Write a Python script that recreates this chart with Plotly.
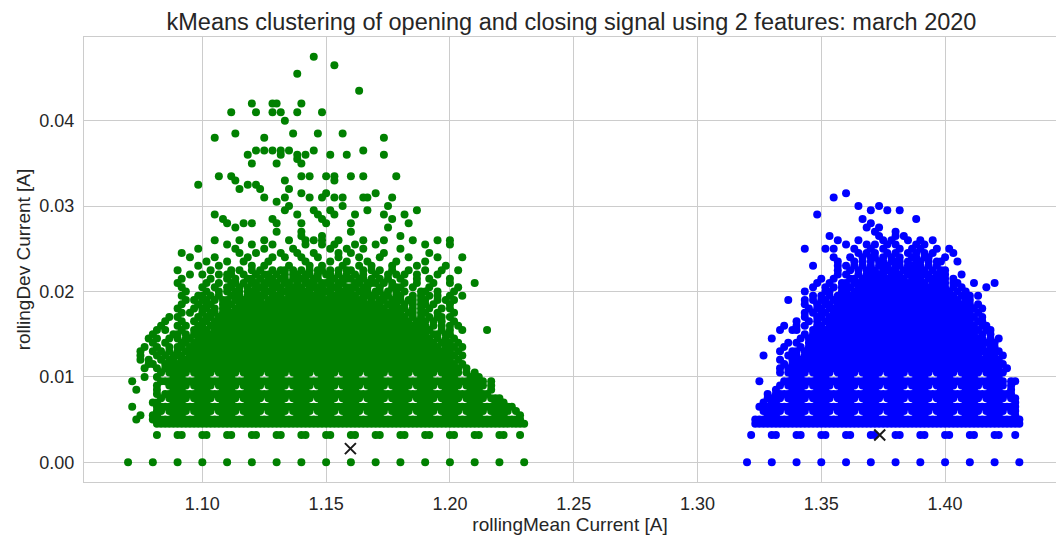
import plotly.graph_objects as go

# Rolling features live on a lattice: the rolling mean of readings quantised
# to 0.01 A moves in steps of 0.01/6 A.
MEAN_STEP = 0.01 / 6

green_mean_start = 1.07
blue_mean_start = 1.32

# Each row: rollingDev level [A], then rolling-mean lattice cells starting at
# the cluster's start value; one block of six cells spans 0.01 A, "o" = sample.
green_rows = [
    "0.0475 ...... ...... ...... ...... ...... ...... ...... ...o..",
    "0.0465 ...... ...... ...... ...... ...... ...... ...... ...... ..o...",
    "0.0455 ...... ...... ...... ...... ...... ...... .....o",
    "0.0435 ...... ...... ...... ...... ...... ...... ...... ...... ...... ..o...",
    "0.0420 ...... ...... ...... ...... ...... o....o o..... o.....",
    "0.0410 ...... ...... ...... ...... .o.... .o...o .o...o .....o",
    "0.0400 ...... ...... ...... ...... ...... ...... ..o...",
    "0.0385 ...... ...... ...... ...... ..o... ...... ....o. ....o. ....o.",
    "0.0380 ...... ...... ...... ...o.. ...... ...o.. ...... ...... ...... ...... ..o...",
    "0.0365 ...... ...... ...... ...... ...... .o.o.o .o.o.. ...o.. ...... ...o..",
    "0.0360 ...... ...... ...... ...... .....o ...... .o...o .o.... .o...o ...... ..o...",
    "0.0355 ...... ...... ...... ...... ...... ...... .....o",
    "0.0350 ...... ...... ...... ...... ...... o..... o..... o.....",
    "0.0335 ...... ...... ...... ....o. .o.... ...... ...... o.o... o.o... o..o.. .....o",
    "0.0330 ...... ...... ...... ...... ..o... ...... ..o... ...... ..o...",
    "0.0325 ...... ...... .....o ...... .....o .o....",
    "0.0320 ...... ...... ...... ...... ...o.. ..o... ...o..",
    "0.0315 ...... ...... ...... ...... ...... ...... ...... o..... o..... ...... o.....",
    "0.0310 ...... ...... ...... ...... ...... ...o.. ..o... ..o..o ..o.o. ...oo. ....o.",
    "0.0305 ...... ...... ...... ...... ...... ...... o.....",
    "0.0300 ...... ...... ...... ...... ...... ...... ...o.. ...... ....o. ...... ...o..",
    "0.0295 ...... ...... ...... ...... ...... ...... ..o... ...o.. .o.... ....o. ...... ....o.",
    "0.0290 ...... ...... ...... ...o.. ...... ...... .....o ....o. ..o... .o.... ..o... .o....",
    "0.0285 ...... ...... ...... .....o ...... .....o ...... .....o ...... ...... ....o.",
    "0.0280 ...... ...... ...... ...... o...o. o..... o..... o..... o..... o..... ...... ..o...",
    "0.0275 ...... ...... ...... ...... ..o... ...... ...... ...... ...... ...... ...o..",
    "0.0270 ...... ...... ...... ...... ...... ...... o..... o..... ...... o.....",
    "0.0265 ...... ...... ...... ...... ...... ...... ...... o....o ...... ...... ...... o.....",
    "0.0260 ...... ...... ...... ...o.. ...o.. ...o.. ...o.. .o.o.o ...o.. ...o.. ..o... ...o.. ...o.. o.....",
    "0.0255 ...... ...... ...... ...... o..... o....o ...... .o...o ..o... .o.... o..... ...... o..... o.....",
    "0.0250 ...... ...... .....o ...... ..o... ...o.. ....o. ...... .o...o ...o.. ...... o.....",
    "0.0245 ...... ...... .o.... ...... ...o.. .o.... .o...o ...o.. ...o.. o..... ..o... ...... .o....",
    "0.0240 ...... ...... ...o.. ...o.. .....o .....o ..o... o...o. ...o.. ..o... .o.... ..o... ...o.. ...o..",
    "0.0235 ...... ...... ...... .o.... o...o. ....o. ...... .o.... .o...o ....o. .....o ...... o.....",
    "0.0230 ...... ...... .....o ....o. ...... o..o.. ...o.. ..o..o ....o. ..o..o ....o. ....o. .....o",
    "0.0225 ...... ...... o..... ..o... .o.o.. o.o..o .oo.o. o.o.oo .o.o.o o..o.o .o..o. ..o... o...o. ..o...",
    "0.0220 ...... ...... ...o.. o...o. oo..o. .o.oo. o.o.oo .oo.o. oo.o.o .o.o.. o..o.o .o..o. ...o..",
    "0.0215 ...... ...... .o.... ..o... o.o..o o.o.oo .oo.oo oo.oo. .oo.oo o.oo.o .o.o.. o...o. .o.... o.....",
    "0.0210 ...... ...... o..... .o..o. .oo.o. oo.ooo o.oo.o .ooo.o oo.oo. .oo.oo o.o.o. .o..o. ..o... o..... o.....",
    "0.0205 ...... ...... .o.... o..o.. oo.o.o .ooo.o oo.ooo o.oooo .ooo.o oo.oo. .o..oo o..o.. .o.... ..o...",
    "0.0200 ...... ...... ..o... .o..o. o.oo.o oo.ooo .ooooo ooo.oo oo.ooo o.ooo. oo.o.o .o...o o..o.. .o....",
    "0.0195 ...... ...... .o...o o.o.o. .ooo.o oooo.o oo.ooo oooooo .ooooo oo.ooo o.oo.o o..o.o .o.o.. o..o..",
    "0.0190 ...... ...... ..o.o. oo.o.o o.oooo ooo.oo oooooo oooooo oooooo oooo.o .oo.oo o.oo.o o..o.o .o....",
    "0.0185 ...... ...... .o...o .oo..o oo.ooo oooooo oooooo oooooo oooooo oooooo oo.ooo .o.o.o o.o... o.....",
    "0.0180 ...... ...... o...o. oo.o.o o.oooo oooooo oooooo oooooo oooooo oooooo ooo.oo oo.o.o .o..o. o.....",
    "0.0175 ...... ...... .o.o.. o.oo.o oooooo oooooo oooooo oooooo oooooo oooooo oooooo o.oo.o o..o.. .o....",
    "0.0170 ...... ....o. o....o .oo.oo oooooo oooooo oooooo oooooo oooooo oooooo oooooo oo.o.o .o.oo. o.....",
    "0.0165 ...... ...o.. .o..o. oo.ooo oooooo oooooo oooooo oooooo oooooo oooooo oooooo ooo.oo o.o.o. .o....",
    "0.0160 ...... ..o... o.o..o o.oooo oooooo oooooo oooooo oooooo oooooo oooooo oooooo oooooo o.o.o. o.o...",
    "0.0155 ...... .o.o.. .o..oo oo.ooo oooooo oooooo oooooo oooooo oooooo oooooo oooooo oooooo oo..o. o..o.. ...o..",
    "0.0150 ...... o....o o.o.oo oooooo oooooo oooooo oooooo oooooo oooooo oooooo oooooo oooooo o.oo.o o.....",
    "0.0145 .....o .o..o. o.oo.o oooooo oooooo oooooo oooooo oooooo oooooo oooooo oooooo oooooo oo.o.o .o....",
    "0.0140 ...... o..o.. .oo.oo oooooo oooooo oooooo oooooo oooooo oooooo oooooo oooooo oooooo ooo.oo o.o...",
    "0.0135 ....o. .o..o. oo.ooo oooooo oooooo oooooo oooooo oooooo oooooo oooooo oooooo oooooo oooo.o oo.o..",
    "0.0130 ...o.. o.o.o. o.oooo oooooo oooooo oooooo oooooo oooooo oooooo oooooo oooooo oooooo oooooo o.o...",
    "0.0125 ...o.. .o.o.o oo.ooo oooooo oooooo oooooo oooooo oooooo oooooo oooooo oooooo oooooo oooooo oo.o..",
    "0.0120 ...o.o ..o.oo .ooooo oooooo oooooo oooooo oooooo oooooo oooooo oooooo oooooo oooooo oooooo o.o...",
    "0.0115 .....o o..ooo oooooo oooooo oooooo oooooo oooooo oooooo oooooo oooooo oooooo oooooo oooooo oo.o..",
    "0.0110 ....o. .o.ooo oooooo oooooo oooooo oooooo oooooo oooooo oooooo oooooo oooooo oooooo oooooo ooo.o.",
    "0.0105 ...... ..o.oo ooo.oo ooo.oo ooo.oo ooo.oo ooo.oo ooo.oo ooo.oo ooo.oo ooo.oo ooo.oo ooo.oo ooo.o. o.....",
    "0.0100 ....o. .o...o oo...o oo...o oo...o oo...o oo...o oo...o oo...o oo...o oo...o oo...o oo...o oo...o oo....",
    "0.0095 .o.... ..oooo oooooo oooooo oooooo oooooo oooooo oooooo oooooo oooooo oooooo oooooo oooooo oooooo ooo.o.",
    "0.0090 ...... .o..oo ooo.oo ooo.oo ooo.oo ooo.oo ooo.oo ooo.oo ooo.oo ooo.oo ooo.oo ooo.oo ooo.oo ooo.oo ooo.o.",
    "0.0085 ..o... .o...o oo...o oo...o oo...o oo...o oo...o oo...o oo...o oo...o oo...o oo...o oo...o oo...o oo..o.",
    "0.0080 ...... .o.ooo oooooo oooooo oooooo oooooo oooooo oooooo oooooo oooooo oooooo oooooo oooooo oooooo oooo..",
    "0.0075 ...... ..o.oo ooo.oo ooo.oo ooo.oo ooo.oo ooo.oo ooo.oo ooo.oo ooo.oo ooo.oo ooo.oo ooo.oo ooo.oo ooo.oo o.....",
    "0.0070 ...... oo...o oo...o oo...o oo...o oo...o oo...o oo...o oo...o oo...o oo...o oo...o oo...o oo...o oo...o oo....",
    "0.0065 .o.... .ooooo oooooo oooooo oooooo oooooo oooooo oooooo oooooo oooooo oooooo oooooo oooooo oooooo oooooo oooo..",
    "0.0060 ...... .oo.oo ooo.oo ooo.oo ooo.oo ooo.oo ooo.oo ooo.oo ooo.oo ooo.oo ooo.oo ooo.oo ooo.oo ooo.oo ooo.oo ooo.o.",
    "0.0055 ...o.. oo...o oo...o oo...o oo...o oo...o oo...o oo...o oo...o oo...o oo...o oo...o oo...o oo...o oo...o oo...o",
    "0.0050 ..o... oooooo oooooo oooooo oooooo oooooo oooooo oooooo oooooo oooooo oooooo oooooo oooooo oooooo oooooo oooooo",
    "0.0045 ...... .ooooo oooooo oooooo oooooo oooooo oooooo oooooo oooooo oooooo oooooo oooooo oooooo oooooo oooooo oooooo o.....",
    "0.0032 ...... .o.... oo.... oo.... oo.... oo.... oo.... oo.... oo.... oo.... oo.... oo.... oo.... oo.... oo.... oo...o",
    "0.0000 o..... o..... o..... o..... o..... o..... o..... o..... o..... o..... o..... o..... o..... o..... o..... o..... o.....",
]

blue_rows = [
    "0.0315 ...... ...... ...... ...... o.....",
    "0.0310 ...... ...... ...... ...o..",
    "0.0300 ...... ...... ...... ...... ...o.. ..o...",
    "0.0295 ...... ...... ...... ...... ...... o...o. .o....",
    "0.0290 ...... ...... .....o",
    "0.0285 ...... ...... ...... ...... ....o. ...... .....o",
    "0.0280 ...... ...... ...... ...... ...... o.....",
    "0.0275 ...... ...... ...... ...... .....o ..o...",
    "0.0270 ...... ...... ...... ...... ...... .o.... o.....",
    "0.0265 ...... ...... ...... ..o... ...... ..o... o.o...",
    "0.0260 ...... ...... ...... ....o. ...o.. ...o.o ...o.. o..o..",
    "0.0255 ...... ...... ...... ...... o....o .o..o. o....o .o....",
    "0.0250 ...... ...... ..o... .o.o.. ..o... o..o.. .o..o. o...o. .o....",
    "0.0245 ...... ...... ...... ...... ...o.o .o..o. o..o.o .o.o.. ..o...",
    "0.0240 ...... ...... ...... ...o.. .o..o. oo.o.o .o..oo .oo... o.....",
    "0.0235 ...... ...... ...... ....o. ..o.o. o.oo.o oo.o.o o.o.oo ...o..",
    "0.0230 ...... ...... ....o. ....o. o.o.o. o.ooo. oo.ooo o.o.o.",
    "0.0225 ...... ...... ...... ....o. .o.o.o oo.ooo o.oooo oo.o.o o.....",
    "0.0220 ...... ...... ...... ....o. o..o.o oooo.o oo.ooo ooo.oo o...o.",
    "0.0215 ...... ...... ...... o..o.. .oo.oo oooooo ooo.oo o.oooo o.o...",
    "0.0210 ...... ...... .....o ..o..o o.oooo oooooo oooooo oo.ooo o.oo.. .o.... o.....",
    "0.0205 ...... ...... ....o. .o.o.o oo.ooo oooooo oooooo oooooo o.o.o. ....o.",
    "0.0200 ...... ...... ..o... .oo..o o.oooo oooooo oooooo oooooo oo.o.o",
    "0.0195 ...... ...... ....o. o.o.oo oooooo oooooo oooooo oooooo ooo.oo o.o...",
    "0.0190 ...... ....o. ..o.o. oo.ooo oooooo oooooo oooooo oooooo oooo.o o.....",
    "0.0185 ...... ...... ..o..o .oo.oo oooooo oooooo oooooo oooooo oooooo o.o...",
    "0.0180 ...... ...... ...o.o o.oooo oooooo oooooo oooooo oooooo oooooo oo.o..",
    "0.0175 ...... ...... ..o.o. oo.ooo oooooo oooooo oooooo oooooo oooooo o.o...",
    "0.0170 ...... ...... ..o..o o.oooo oooooo oooooo oooooo oooooo oooooo oo.o..",
    "0.0165 ...... ...... o..o.o .ooooo oooooo oooooo oooooo oooooo oooooo o.oo..",
    "0.0160 ...... ...o.. o.o..o o.oooo oooooo oooooo oooooo oooooo oooooo oo.oo.",
    "0.0155 ...... ..o..o o...oo oooooo oooooo oooooo oooooo oooooo oooooo ooo.oo",
    "0.0150 ...... ...... ..o.oo oooooo oooooo oooooo oooooo oooooo oooooo oo.o.o",
    "0.0145 ...... o..... .o.ooo oooooo oooooo oooooo oooooo oooooo oooooo oooo.o .o....",
    "0.0140 ...... ....o. o..ooo oooooo oooooo oooooo oooooo oooooo oooooo oooooo o.....",
    "0.0135 ...... ...o.. .o.ooo oooooo oooooo oooooo oooooo oooooo oooooo oooo.o o.....",
    "0.0130 ...... ..o..o o.oooo oooooo oooooo oooooo oooooo oooooo oooooo oooooo oo....",
    "0.0125 ....o. ....oo o.oooo oooooo oooooo oooooo oooooo oooooo oooooo ooo.oo o.o...",
    "0.0120 ...... ..o..o oooooo oooooo oooooo oooooo oooooo oooooo oooooo oooooo oo....",
    "0.0115 ...... ...o.o oooooo oooooo oooooo oooooo oooooo oooooo oooooo oooooo ooo...",
    "0.0110 ...... ..o.oo oooooo oooooo oooooo oooooo oooooo oooooo oooooo oooooo oo.o..",
    "0.0105 ...... ..o.oo ooo.oo ooo.oo ooo.oo ooo.oo ooo.oo ooo.oo ooo.oo ooo.oo ooo...",
    "0.0100 ...... .....o oo...o oo...o oo...o oo...o oo...o oo...o oo...o oo...o oo....",
    "0.0095 ...o.. ...ooo oooooo oooooo oooooo oooooo oooooo oooooo oooooo oooooo ooo.oo",
    "0.0090 ...... ..o.oo ooo.oo ooo.oo ooo.oo ooo.oo ooo.oo ooo.oo ooo.oo ooo.oo ooo.o.",
    "0.0085 ...... .o...o oo...o oo...o oo...o oo...o oo...o oo...o oo...o oo...o oo..o.",
    "0.0080 .....o .ooooo oooooo oooooo oooooo oooooo oooooo oooooo oooooo oooooo ooooo.",
    "0.0075 .....o ooo.oo ooo.oo ooo.oo ooo.oo ooo.oo ooo.oo ooo.oo ooo.oo ooo.oo ooo.oo",
    "0.0070 ....o. oo...o oo...o oo...o oo...o oo...o oo...o oo...o oo...o oo...o oo...o",
    "0.0065 ...ooo oooooo oooooo oooooo oooooo oooooo oooooo oooooo oooooo oooooo oooooo",
    "0.0060 ....oo ooo.oo ooo.oo ooo.oo ooo.oo ooo.oo ooo.oo ooo.oo ooo.oo ooo.oo ooo.oo",
    "0.0055 .....o oo...o oo...o oo...o oo...o oo...o oo...o oo...o oo...o oo...o oo...o",
    "0.0050 ..oooo oooooo oooooo oooooo oooooo oooooo oooooo oooooo oooooo oooooo oooooo o.....",
    "0.0045 ..oooo oooooo oooooo oooooo oooooo oooooo oooooo oooooo oooooo oooooo oooooo o.....",
    "0.0032 .o.... oo.... oo.... oo.... oo.... oo.... oo.... oo.... oo.... oo.... oo...o",
    "0.0000 o..... o..... o..... o..... o..... o..... o..... o..... o..... o..... o..... o.....",
]

# kMeans cluster centres (rollingMean, rollingDev)
centroid_mean = [1.1598, 1.3736]
centroid_dev = [0.0016, 0.0032]

x_ticks = [1.10, 1.15, 1.20, 1.25, 1.30, 1.35, 1.40]
y_ticks = [0.00, 0.01, 0.02, 0.03, 0.04]


def expand(rows, start):
    """Turn lattice rows into (rollingMean, rollingDev) samples."""
    means, devs = [], []
    for row in rows:
        level, *blocks = row.split()
        cells = "".join(blocks)
        for i, cell in enumerate(cells):
            if cell == "o":
                means.append(round(start + i * MEAN_STEP, 6))
                devs.append(float(level))
    return means, devs


green_x, green_y = expand(green_rows, green_mean_start)
blue_x, blue_y = expand(blue_rows, blue_mean_start)

TEXT = "#262626"
GRID = "#cccccc"
FONT = "Liberation Sans, Arial, sans-serif"

fig = go.Figure()
fig.add_trace(go.Scatter(
    x=green_x, y=green_y, mode="markers",
    marker=dict(color="green", size=8, line=dict(width=0)),
    hoverinfo="skip",
))
fig.add_trace(go.Scatter(
    x=blue_x, y=blue_y, mode="markers",
    marker=dict(color="blue", size=8, line=dict(width=0)),
    hoverinfo="skip",
))
fig.add_trace(go.Scatter(
    x=centroid_mean, y=centroid_dev, mode="markers",
    marker=dict(symbol="x-thin", size=11, color="#1a1a1a",
                line=dict(width=2, color="#1a1a1a")),
    hoverinfo="skip",
))

fig.update_layout(
    width=1056, height=535,
    margin=dict(l=84, r=0, t=37, b=53),
    paper_bgcolor="white", plot_bgcolor="white",
    showlegend=False,
    font=dict(family=FONT, color=TEXT, size=18),
    title=dict(
        text="kMeans clustering of opening and closing signal using 2 features: march 2020",
        font=dict(size=23.5, color=TEXT, family=FONT),
        x=0.5015, xanchor="center", xref="paper",
        y=1 - 22 / 535, yanchor="middle", yref="container",
    ),
    xaxis=dict(
        range=[1.0522, 1.4448],
        tickvals=x_ticks, ticktext=[f"{v:.2f}" for v in x_ticks],
        showgrid=True, gridcolor=GRID, gridwidth=1,
        zeroline=False, showline=True, linecolor=GRID, linewidth=1.25,
        mirror=True, ticks="", ticklabelstandoff=5,
        tickfont=dict(size=18, color=TEXT),
        title=dict(text="rollingMean Current [A]",
                   font=dict(size=19, color=TEXT), standoff=3),
    ),
    yaxis=dict(
        range=[-0.00231, 0.0498],
        tickvals=y_ticks, ticktext=[f"{v:.2f}" for v in y_ticks],
        showgrid=True, gridcolor=GRID, gridwidth=1,
        zeroline=False, showline=True, linecolor=GRID, linewidth=1.25,
        ticks="", ticklabelstandoff=5,
        tickfont=dict(size=18, color=TEXT),
        title=dict(text="rollingDev Current [A]",
                   font=dict(size=19, color=TEXT), standoff=3),
    ),
)

fig.write_html("out.html")
